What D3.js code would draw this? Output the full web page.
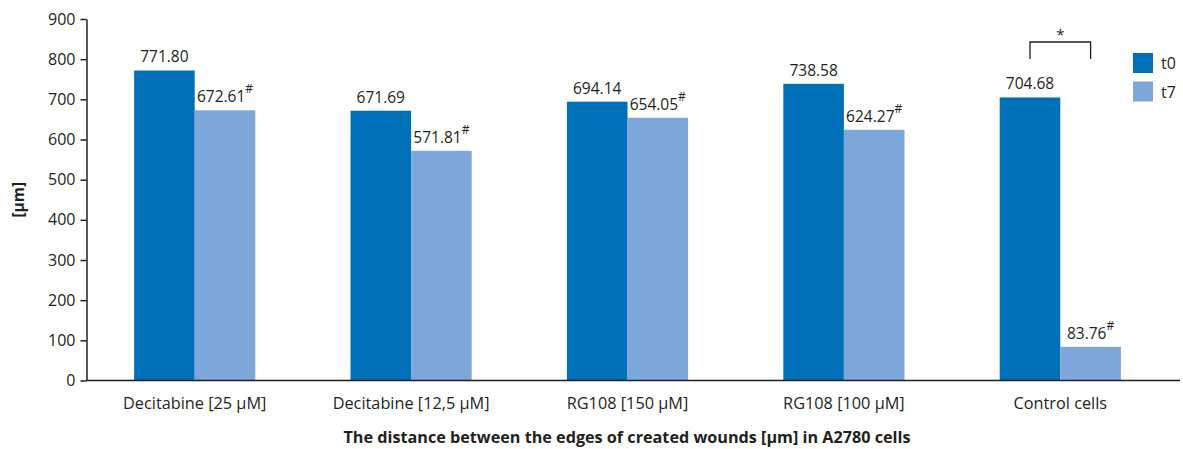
<!DOCTYPE html>
<html>
<head>
<meta charset="utf-8">
<script src="https://cdn.jsdelivr.net/npm/d3@7"></script>
<style>
  body { margin: 0; background: #fff; }
  svg { display: block; font-family: "Open Sans", "Noto Sans", sans-serif; }
</style>
</head>
<body>
<svg id="chart" width="1183" height="449"></svg>
<script>
// Wound edge distances in A2780 cells, at t0 and t7
const categories = ["Decitabine [25 µM]", "Decitabine [12,5 µM]", "RG108 [150 µM]", "RG108 [100 µM]", "Control cells"];
const seriesNames = ["t0", "t7"];
const t0Values = [771.80, 671.69, 694.14, 738.58, 704.68];
const t7Values = [672.61, 571.81, 654.05, 624.27, 83.76];
const t7Significant = [true, true, true, true, true];
const yTicks = [0, 100, 200, 300, 400, 500, 600, 700, 800, 900];

const colors = { t0: "#0070b9", t7: "#7ca7d8" };
const ink = "#231f20";

const svg = d3.select("#chart");
const x0 = 86.5, xEnd = 1180, yBase = 380.5, yTop = 19;

const y = d3.scaleLinear().domain([0, 900]).range([yBase, yTop]);
const xGroup = d3.scaleBand().domain(categories).range([x0, x0 + 5 * 216.4]).paddingInner(0.44).paddingOuter(0.22);
const xSeries = d3.scaleBand().domain(seriesNames).range([0, xGroup.bandwidth()]);

const rows = categories.map((c, i) => ({ cat: c, t0: t0Values[i], t7: t7Values[i], sig: t7Significant[i] }));

// bars
const g = svg.append("g");
const groups = g.selectAll("g.grp").data(rows).enter().append("g")
  .attr("transform", d => `translate(${xGroup(d.cat)},0)`);
seriesNames.forEach(s => {
  groups.append("rect")
    .attr("x", xSeries(s))
    .attr("width", xSeries.bandwidth())
    .attr("y", d => y(d[s]))
    .attr("height", d => yBase - y(d[s]))
    .attr("fill", colors[s]);
});

// value labels
seriesNames.forEach(s => {
  const t = groups.append("text")
    .attr("x", xSeries(s) + xSeries.bandwidth() / 2)
    .attr("y", d => y(d[s]) - 8)
    .attr("text-anchor", "middle")
    .attr("font-size", 15.5)
    .attr("fill", ink);
  t.append("tspan").text(d => d[s].toFixed(2));
  if (s === "t7") {
    t.append("tspan").attr("dy", -9).attr("font-size", 12).text(d => d.sig ? "#" : "");
  }
});

// y axis
const yAxis = d3.axisLeft(y).tickValues(yTicks).tickSize(6).tickPadding(5).tickSizeOuter(0);
const ya = svg.append("g").attr("transform", `translate(${x0},0)`).call(yAxis);
ya.select(".domain").attr("stroke", ink).attr("stroke-width", 1.5);
ya.selectAll(".tick line").attr("stroke", ink).attr("stroke-width", 1.5);
ya.selectAll(".tick text").attr("font-size", 16).attr("fill", ink).attr("font-family", "Open Sans, sans-serif");

// x axis
const xAxis = d3.axisBottom(xGroup).tickSize(0).tickPadding(16.5);
const xa = svg.append("g").attr("transform", `translate(0,${yBase})`).call(xAxis);
xa.select(".domain").attr("d", `M${x0},0H${xEnd}`).attr("stroke", ink).attr("stroke-width", 1.5);
xa.selectAll(".tick text").attr("font-size", 16.3).attr("fill", ink).attr("font-family", "Open Sans, sans-serif");

// axis titles
svg.append("text")
  .attr("transform", `translate(24,${(yBase + yTop) / 2}) rotate(-90)`)
  .attr("text-anchor", "middle").attr("font-size", 15.5).attr("font-weight", "bold").attr("fill", ink)
  .text("[µm]");
svg.append("text")
  .attr("x", 627).attr("y", 443)
  .attr("text-anchor", "middle").attr("font-size", 16.2).attr("font-weight", "bold").attr("fill", ink)
  .text("The distance between the edges of created wounds [µm] in A2780 cells");

// significance bracket on control cells
const ctl = categories[4];
const bx1 = xGroup(ctl) + xSeries("t0") + xSeries.bandwidth() / 2;
const bx2 = xGroup(ctl) + xSeries("t7") + xSeries.bandwidth() / 2;
svg.append("path")
  .attr("d", `M${bx1},59V42H${bx2}V59`)
  .attr("fill", "none").attr("stroke", ink).attr("stroke-width", 1.3);
svg.append("text")
  .attr("x", (bx1 + bx2) / 2).attr("y", 40)
  .attr("text-anchor", "middle").attr("font-size", 15).attr("fill", ink).text("*");

// legend
const legend = svg.append("g").attr("transform", "translate(1133,53)");
seriesNames.forEach((s, i) => {
  legend.append("rect").attr("x", 0).attr("y", i * 28.5).attr("width", 20).attr("height", 20).attr("fill", colors[s]);
  legend.append("text").attr("x", 28).attr("y", i * 28.5 + 16).attr("font-size", 16).attr("fill", ink).text(s);
});
</script>
</body>
</html>
